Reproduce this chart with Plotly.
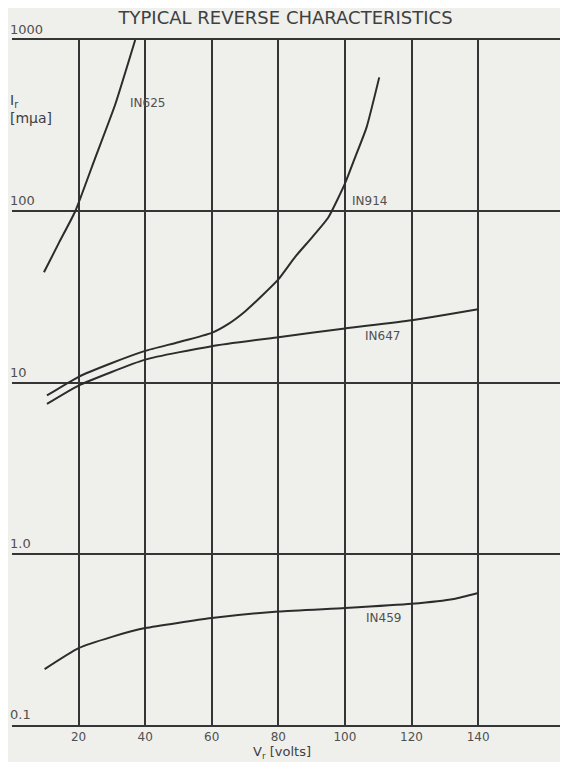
import math
import plotly.graph_objects as go

# ---- data ----
v_625 = [9.6, 14.2, 19.0, 25.0, 31.0, 37.0]
i_625 = [44, 66, 100, 205, 420, 1000]

v_914 = [10.5, 20, 30, 40, 50, 60, 65, 70, 75, 80, 85, 90, 95, 100, 103, 106.5, 110.3]
i_914 = [8.4, 10.8, 13.0, 15.3, 17.2, 19.5, 22, 26, 32, 40, 54, 70, 92, 145, 205, 309, 605]

v_647 = [10.5, 20, 40, 60, 80, 100, 120, 140]
i_647 = [7.5, 9.6, 13.6, 16.3, 18.4, 20.7, 23.1, 26.8]

v_459 = [9.8, 20, 30, 40, 60, 80, 100, 120, 132.7, 140]
i_459 = [0.212, 0.281, 0.327, 0.368, 0.421, 0.46, 0.482, 0.51, 0.544, 0.59]

series = [
    ("IN625", v_625, i_625, 40.6, 430),
    ("IN914", v_914, i_914, 107.5, 115),
    ("IN647", v_647, i_647, 111.3, 18.6),
    ("IN459", v_459, i_459, 111.6, 0.423),
]

x_ticks = [20, 40, 60, 80, 100, 120, 140]
x_tick_text = ["20", "40", "60", "80", "100", "120", "140"]
y_ticks = [0.1, 1, 10, 100, 1000]
y_tick_text = ["0.1", "1.0", "10", "100", "1000"]

title_text = "TYPICAL REVERSE CHARACTERISTICS"

BG = "#efefec"
INK = "#353535"
TXT = "#404040"
FONT = "DejaVu Sans"

fig = go.Figure()
for name, xs, ys, lx, ly in series:
    fig.add_trace(go.Scatter(
        x=xs, y=ys, mode="lines", name=name,
        line=dict(color="#2c2c2c", width=2, shape="spline", smoothing=0.5),
        showlegend=False, hoverinfo="skip",
    ))
    # annotations on a log axis take log10 positions
    fig.add_annotation(x=lx, y=math.log10(ly), xref="x", yref="y",
                       text=name, showarrow=False,
                       font=dict(family=FONT, size=12, color="#505050"))

# y tick labels above the gridlines, at left
for val, txt in zip(y_ticks, y_tick_text):
    fig.add_annotation(x=0, xref="paper", xanchor="left", xshift=-4,
                       y=math.log10(val), yref="y", yanchor="bottom", yshift=1,
                       text=txt, showarrow=False,
                       font=dict(family=FONT, size=13, color="#505050"))

# y axis title
fig.add_annotation(x=0, xref="paper", xanchor="left", xshift=-4,
                   y=1, yref="paper", yanchor="top", yshift=-50,
                   text="I<sub>r</sub><br>[mμa]", showarrow=False, align="left",
                   font=dict(family=FONT, size=14, color=TXT))

# x axis title
fig.add_annotation(x=0.485, xref="paper", xanchor="center",
                   y=0, yref="paper", yanchor="middle", yshift=-27,
                   text="V<sub>r</sub> [volts]", showarrow=False,
                   font=dict(family=FONT, size=13, color=TXT))

fig.update_layout(
    width=560, height=754,
    margin=dict(l=4, r=0, t=32, b=37),
    paper_bgcolor=BG, plot_bgcolor=BG,
    title=dict(text=title_text, x=0.492, xref="paper", xanchor="center",
               y=0.987, yref="container", yanchor="middle",
               font=dict(family=FONT, size=18, color=TXT)),
    xaxis=dict(
        range=[0, 167], tickvals=x_ticks, ticktext=x_tick_text,
        showgrid=True, gridcolor=INK, gridwidth=1.6,
        zeroline=False, showline=True, mirror=True, linecolor=INK, linewidth=1.6,
        ticks="", ticklen=0, ticklabelstandoff=0,
        tickfont=dict(family=FONT, size=12, color="#505050"),
    ),
    yaxis=dict(
        type="log", range=[-1, 3], tickvals=y_ticks,
        showticklabels=False,
        showgrid=True, gridcolor=INK, gridwidth=1.6,
        zeroline=False, showline=False, ticks="",
    ),
)

fig.write_html("out.html")
